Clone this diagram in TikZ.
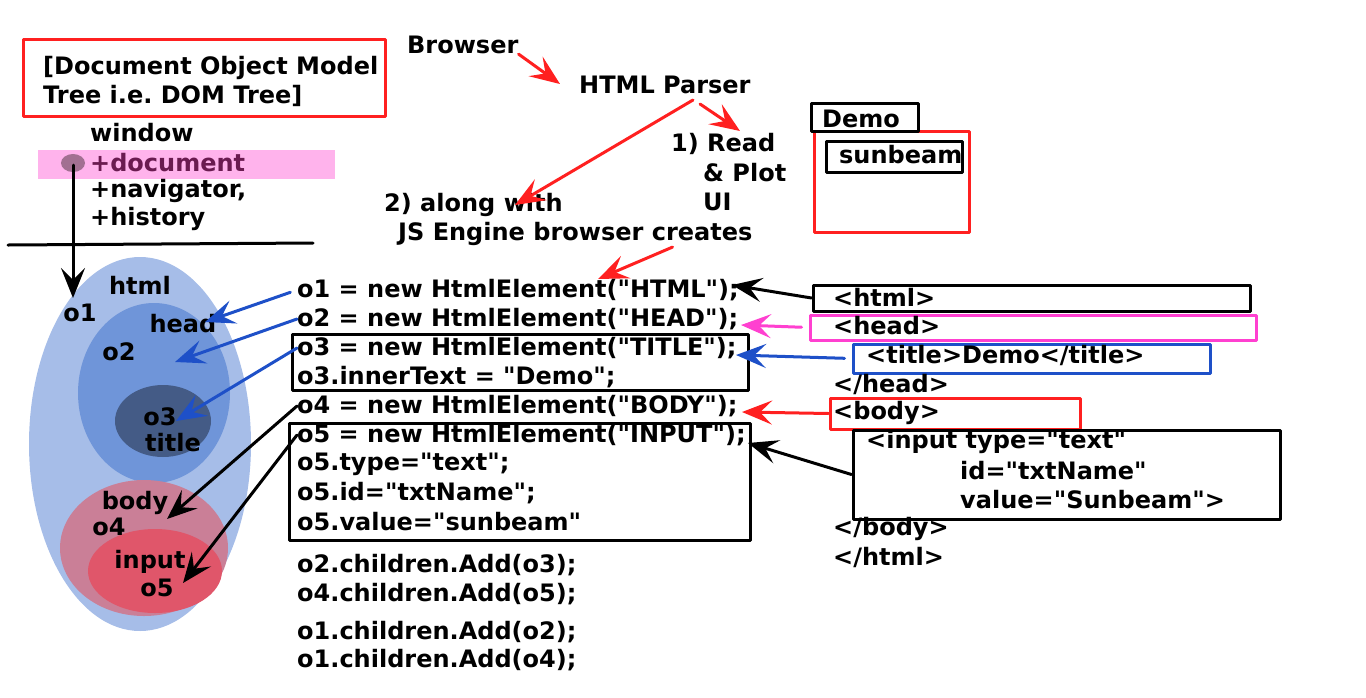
\documentclass[tikz,border=0pt]{standalone}
\usepackage{fontspec}
\setmainfont{DejaVu Sans}[Ligatures=TeXOff]
\usepackage{tikz}
\usetikzlibrary{shapes,arrows.meta,calc}
\tikzset{>={Stealth[length=30pt,width=24pt,inset=12pt]}}
\definecolor{dred}{HTML}{FF2020}
\definecolor{dblue}{HTML}{1E50C8}
\definecolor{dmagenta}{HTML}{FF40D0}
\definecolor{pinkband}{HTML}{FFB3EC}
\definecolor{docpurple}{HTML}{6A1B50}
\definecolor{dotmauve}{HTML}{A27092}
\definecolor{ehtml}{HTML}{A6BDE8}
\definecolor{ehead}{HTML}{6F95D9}
\definecolor{etitle}{HTML}{445B86}
\definecolor{ebody}{HTML}{CA7F97}
\definecolor{einput}{HTML}{E0566A}
\newcommand{\labfont}{\bfseries\fontsize{24}{29}\selectfont}
\frenchspacing

\begin{document}
\begin{tikzpicture}[x=1pt,y=-1pt,line cap=round,line join=round,
	txt/.style={anchor=west,inner sep=0pt,font=\labfont},
	lab/.style={inner sep=0pt,font=\labfont},
	frame/.style={draw,line width=3pt,inner sep=0pt},
	link/.style={->,line width=3pt}]
	\useasboundingbox (0,0) rectangle (1366,697);
	% free ends of the connectors
	\coordinate (o1tip) at (73,298);
	\coordinate (aHead) at (205,322);
	\coordinate (aO2) at (175,362);
	\coordinate (aO3) at (176,421);
	\coordinate (aO4) at (167,519);
	\coordinate (aO5) at (183,583);
	\coordinate (tParser) at (560,84);
	\coordinate (pRead) at (700,104);
	\coordinate (tRead) at (740,131);
	\coordinate (pAlong) at (693,100);
	\coordinate (tAlong) at (515,205);
	\coordinate (tCreate) at (598,279);
	\coordinate (tHTML) at (732,285);
	\coordinate (tHEAD) at (741,325);
	\coordinate (tTITLE) at (736,355);
	\coordinate (tBODY) at (742,412);
	\coordinate (tINPUT) at (748,443);
	% title box
	\node[frame,color=dred,minimum width=362pt,minimum height=77pt] (dombox) at (204,77.5) {};
	\node[txt,align=left] (dom) at (43,81.5) {[Document Object Model\\Tree i.e. DOM Tree]};
	% window object
	\fill[pinkband] (38,150) rectangle (335,179);
	\node[txt] (win) at (90,133) {window};
	\node[txt,text=docpurple] (doc) at (90,163) {+document};
	\node[txt] (nav) at (90,191) {+navigator,};
	\node[txt] (hist) at (90,219) {+history};
	\fill[dotmauve] (73,163) ellipse (12 and 9);
	\coordinate (dot) at (73,165);
	\draw[line width=3pt] (8,245) -- (313,243);
	% DOM tree
	\fill[ehtml] (140,444) ellipse (111 and 187);
	\fill[ehead] (154,393) ellipse (76 and 90);
	\fill[etitle] (163,421) ellipse (48 and 36);
	\fill[ebody] (144,548) ellipse (84 and 68);
	\fill[einput] (155,571) ellipse (67 and 42);
	\draw[link] (dot) -- (o1tip);
	\node[lab] (lhtml) at (140,285) {html};
	\node[lab] (lo1) at (80,313) {o1};
	\node[lab] (lhead) at (183,324) {head};
	\node[lab] (lo2) at (119,352) {o2};
	\node[lab] (lo3) at (160,417) {o3};
	\node[lab] (ltitle) at (173,443) {title};
	\node[lab] (lbody) at (135,503) {body};
	\node[lab] (lo4) at (109,527) {o4};
	\node[lab] (linput) at (150,562) {input};
	\node[lab] (lo5) at (157,588) {o5};
	% browser steps
	\node[txt] (browser) at (407,45) {Browser};
	\node[txt] (parser) at (579,85) {HTML Parser};
	\node[txt] (read) at (671,144) {1) Read};
	\node[txt] (plot) at (703,173) {\& Plot};
	\node[txt] (ui) at (703,202) {UI};
	\node[txt] (along) at (384,205) {2) along with};
	\node[txt] (creates) at (398,234) {JS Engine browser creates};
	\draw[link,color=dred] (browser.south east) -- (tParser);
	\draw[link,color=dred] (pRead) -- (tRead);
	\draw[link,color=dred] (pAlong) -- (tAlong);
	\draw[link,color=dred,shorten <=3pt] (creates.south) ++(100,0) -- (tCreate);
	% rendered page
	\node[frame,color=dred,minimum width=155pt,minimum height=101pt] (page) at (891.5,181.5) {};
	\node[frame,minimum width=107pt,minimum height=28pt] (tab) at (864.5,117) {};
	\node[txt] (tabtxt) at (822,119) {Demo};
	\node[frame,minimum width=136pt,minimum height=31pt] (field) at (894,156.5) {};
	\node[txt] (fieldtxt) at (839,155) {sunbeam};
	% generated code
	\node[frame,minimum width=456pt,minimum height=56pt] (c3box) at (520,362) {};
	\node[frame,minimum width=461pt,minimum height=117pt] (c5box) at (519.5,481.5) {};
	\node[txt] (c1) at (297,290) {o1 = new HtmlElement("HTML");};
	\node[txt] (c2) at (297,319) {o2 = new HtmlElement("HEAD");};
	\node[txt] (c3) at (297,348) {o3 = new HtmlElement("TITLE");};
	\node[txt] (c3t) at (297,377) {o3.innerText = "Demo";};
	\node[txt] (c4) at (297,406) {o4 = new HtmlElement("BODY");};
	\node[txt] (c5) at (297,435) {o5 = new HtmlElement("INPUT");};
	\node[txt] (c5a) at (297,464) {o5.type="text";};
	\node[txt] (c5b) at (297,493) {o5.id="txtName";};
	\node[txt] (c5c) at (297,522) {o5.value="sunbeam"};
	\node[txt] (add1) at (297,565) {o2.children.Add(o3);};
	\node[txt] (add2) at (297,594) {o4.children.Add(o5);};
	\node[txt] (add3) at (297,632) {o1.children.Add(o2);};
	\node[txt] (add4) at (297,660) {o1.children.Add(o4);};
	\draw[link,color=dblue,shorten <=7pt] (c1.west) -- (aHead);
	\draw[link,color=dblue] (c2.west) -- (aO2);
	\draw[link,color=dblue] (c3.west) -- (aO3);
	\draw[link] (c4.west) -- (aO4);
	\draw[link] (c5.west) -- (aO5);
	% html source
	\node[frame,minimum width=437pt,minimum height=26pt] (hhtml) at (1031.5,298) {};
	\node[frame,color=dmagenta,minimum width=446pt,minimum height=25pt] (hhead) at (1033,327.5) {};
	\node[frame,color=dblue,minimum width=357pt,minimum height=29pt] (htitle) at (1031.5,358.5) {};
	\node[frame,color=dred,minimum width=250pt,minimum height=31pt] (hbody) at (955,413.5) {};
	\node[frame,minimum width=427pt,minimum height=89pt] (hinput) at (1066.5,474.5) {};
	\node[txt] (s1) at (833,297) {<html>};
	\node[txt] (s2) at (833,326) {<head>};
	\node[txt] (s3) at (866,355) {<title>Demo</title>};
	\node[txt] (s4) at (833,384) {</head>};
	\node[txt] (s5) at (833,413) {<body>};
	\node[txt] (s6) at (866,442) {<input type="text"};
	\node[txt] (s7) at (960,471) {id="txtName"};
	\node[txt] (s8) at (960,500) {value="Sunbeam">};
	\node[txt] (s9) at (833,529) {</body>};
	\node[txt] (s10) at (833,557) {</html>};
	\draw[link] (hhtml.west) -- (tHTML);
	\draw[link,color=dmagenta,shorten <=7pt] (hhead.west) -- (tHEAD);
	\draw[link,color=dblue,shorten <=7pt] (htitle.west) -- (tTITLE);
	\draw[link,color=dred] (hbody.west) -- (tBODY);
	\draw[link] (hinput.west) -- (tINPUT);
\end{tikzpicture}
\end{document}
